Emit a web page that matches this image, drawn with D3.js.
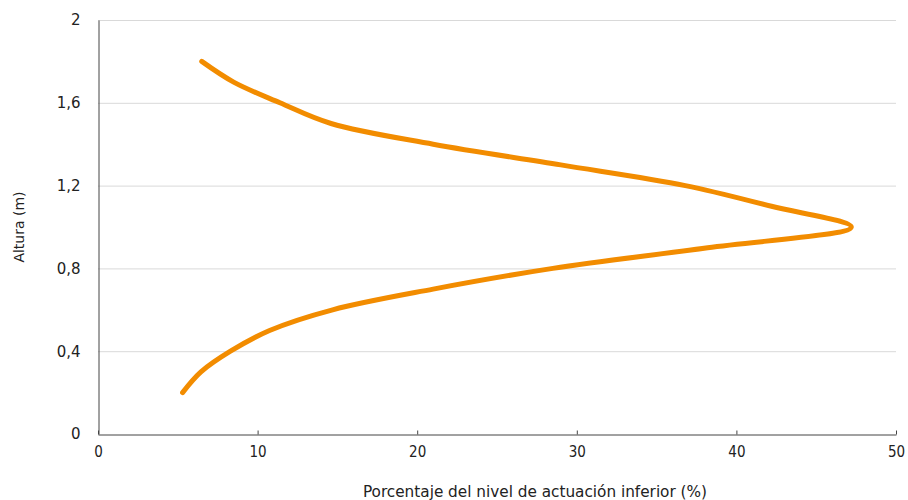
<!DOCTYPE html>
<html><head><meta charset="utf-8">
<script src="https://cdn.jsdelivr.net/npm/d3@7"></script>
<style>body{margin:0;background:#fff}</style>
</head><body>
<svg id="c" width="908" height="500"></svg>
<script>
const heights = [0.2,0.3,0.4,0.5,0.6,0.7,0.8,0.9,1.0,1.1,1.2,1.3,1.4,1.5,1.6,1.7,1.8];
const percents = [5.3,6.45,8.3,10.75,14.7,21.0,28.5,38.2,47.2,42.2,36.8,29.0,21.0,14.6,11.4,8.5,6.5];
const xTicks = [0,10,20,30,40,50];
const yTicks = [0,0.4,0.8,1.2,1.6,2];
const yTickLabels = ["0","0,4","0,8","1,2","1,6","2"];
const xTitle = "Porcentaje del nivel de actuación inferior (%)";
const yTitle = "Altura (m)";

const svg = d3.select("#c");
const x = d3.scaleLinear().domain([0,50]).range([98,896]);
const y = d3.scaleLinear().domain([0,2]).range([434,20]);

// gridlines
svg.append("g").selectAll("line").data(yTicks.filter(d=>d>0)).join("line")
  .attr("x1",x(0)).attr("x2",x(50)).attr("y1",d=>y(d)+0.5).attr("y2",d=>y(d)+0.5)
  .attr("stroke","#d9d9d9").attr("stroke-width",1);

// y axis
const ya = svg.append("g").attr("transform",`translate(${x(0)+0.5},0)`)
  .call(d3.axisLeft(y).tickValues(yTicks).tickSize(0).tickPadding(18)
    .tickFormat((d,i)=>yTickLabels[i]));
ya.select(".domain").attr("stroke","#444");
ya.selectAll("text").attr("font-family","DejaVu Sans").attr("font-size",15).attr("fill","#222");

// x axis
const xa = svg.append("g").attr("transform",`translate(0,${y(0)+0.5})`)
  .call(d3.axisBottom(x).tickValues(xTicks).tickSize(-4).tickPadding(12).tickSizeOuter(0));
xa.select(".domain").attr("stroke","#444");
xa.selectAll(".tick line").attr("stroke","#444");
xa.selectAll("text").attr("font-family","DejaVu Sans Condensed").attr("font-size",15).attr("fill","#222");

// line
const data = heights.map((h,i)=>({h, p:percents[i]}));
svg.append("path").datum(data)
  .attr("d", d3.line().x(d=>x(d.p)).y(d=>y(d.h)).curve(d3.curveCatmullRom.alpha(0.5)))
  .attr("fill","none").attr("stroke","#F28C00").attr("stroke-width",5)
  .attr("stroke-linecap","round").attr("stroke-linejoin","round");

// titles
svg.append("text").attr("x",535).attr("y",497).attr("text-anchor","middle")
  .attr("font-family","DejaVu Sans Condensed").attr("font-size",16).attr("fill","#222")
  .attr("textLength",344).attr("lengthAdjust","spacingAndGlyphs").text(xTitle);
svg.append("text").attr("transform","translate(24,227) rotate(-90)").attr("text-anchor","middle")
  .attr("font-family","DejaVu Sans").attr("font-size",14).attr("fill","#222").text(yTitle);
</script>
</body></html>
